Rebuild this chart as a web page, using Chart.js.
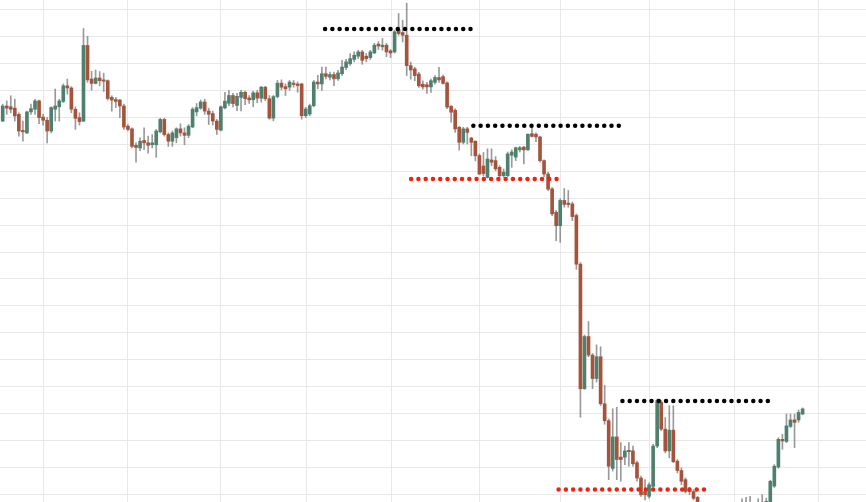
<!DOCTYPE html>
<html>
<head>
<meta charset="utf-8">
<script src="https://cdn.jsdelivr.net/npm/chart.js@4.4.1/dist/chart.umd.min.js"></script>
<style>
  html, body { margin: 0; padding: 0; background: #fff; }
  #wrap { width: 866px; height: 502px; }
</style>
</head>
<body>
<div id="wrap"><canvas id="chart"></canvas></div>
<script>
// OHLC per candle (price units), left to right
const opens = [
  148.7, 154.3, 154, 153.5, 151.2, 145.2, 144.3, 152.1, 153.1, 156.2,
  150.2, 149, 145, 153.1, 154, 156, 161.8, 161, 153.1, 150,
  148.7, 176.8, 164.3, 162.7, 164.7, 164, 163.7, 157.5, 156.7, 156.5,
  154.3, 146.8, 145.8, 139.7, 138.7, 141.5, 140.6, 139.9, 139.9, 144.7,
  149.3, 143.7, 141.2, 142.5, 145.8, 144.3, 143.4, 146.5, 152.1, 153.5,
  155.8, 152.4, 151.5, 148.7, 145.3, 153.6, 155.3, 158.2, 154.5, 157.5,
  159.4, 157.3, 156.6, 159.2, 157.2, 161.3, 157, 149.8, 157.8, 162.8,
  161.5, 161.3, 162.8, 162.5, 162.5, 150.7, 151.3, 154.4, 163.2, 162.5,
  166.3, 165, 166, 164.4, 166.3, 168.6, 170, 171.6, 172.8, 174.4,
  172.8, 172.3, 174, 177.3, 176.3, 176.9, 174.8, 174.4, 182.7, 181.6,
  180.6, 169.3, 168.1, 166.2, 162.4, 162.2, 161.4, 163.1, 164.9, 165.2,
  162.9, 154.2, 152.7, 146.4, 140.8, 145.8, 142.4, 141.2, 135.9, 132,
  127.75, 134.25, 134, 131.5, 128.4, 128.4, 136, 135.3, 138, 139,
  138, 144, 143.8, 142.8, 134, 129, 123.5, 114.8, 109.8, 119.2,
  118.2, 117.9, 113.6, 95.5, 49.2, 68.6, 61.7, 53, 61.1, 43.6,
  37.3, 19.6, 31.3, 23.8, 23.8, 26.3, 26.1, 21.7, 16, 11,
  9.2, 12.9, 27.9, 44.2, 34.2, 26.1, 33.8, 22.3, 18.8, 15.4,
  11.7, 11, 8.8, 6, 2, -1, 1, -2, -4, -1,
  -3, 0, 2, -1, 3, 1, 4, 2, 4, 4,
  6.6, 13, 20.1, 30.4, 29.6, 35.2, 37.6, 37.6, 39.8
];
const highs = [
  155, 156.2, 158.1, 156.8, 151.8, 148.7, 152.4, 155, 156.8, 156.5,
  151.2, 150, 154, 160.6, 156.8, 162.5, 164.3, 161.5, 154, 151.8,
  183.1, 180.2, 167.2, 167.7, 167.1, 166.5, 164, 158.1, 157.5, 156.8,
  155, 147.4, 146.2, 140.6, 142.5, 146.2, 143.1, 143.7, 145.6, 149.7,
  149.7, 144.3, 145, 146.2, 147.7, 146.2, 147.4, 153.7, 155.2, 156.5,
  156.8, 153.5, 152.4, 149.3, 154.4, 159.4, 160.1, 159, 159, 160.1,
  159.8, 158.2, 159.8, 160.1, 161.6, 161.6, 158.2, 158.2, 163.8, 164,
  162.5, 163.8, 163.8, 163.2, 162.8, 153.8, 155, 163.8, 165.7, 168.8,
  168.8, 166.9, 166.9, 167.6, 171.3, 171.6, 173.8, 174.4, 175, 175,
  173.8, 175, 177.6, 178.2, 179.4, 177.6, 175.3, 182.5, 188.7, 186.2,
  192.5, 170.6, 168.7, 166.8, 163.7, 163.1, 164.3, 165.6, 168.7, 165.8,
  163.3, 154.5, 153.3, 146.7, 146.4, 146.4, 142.7, 141.4, 136.5, 137,
  138.4, 138.4, 135.5, 132.1, 130.9, 137.2, 138, 139, 139.3, 139.3,
  144, 146.5, 144.3, 143, 134.3, 129.7, 124, 115.5, 119.8, 123.6,
  122.9, 118.6, 114.2, 96.1, 69.2, 74.2, 62.3, 65.5, 64.8, 50.5,
  38, 41.7, 42.3, 29.2, 27.9, 29.2, 27.9, 22.3, 16.7, 15.4,
  14.2, 28.5, 45.4, 44.8, 38.5, 42.9, 42.9, 22.9, 19.8, 16.1,
  12.5, 11.7, 9.2, 6.8, 4, 2, 3, 1, 0, 2,
  1, 4, 5, 8.3, 8.8, 9.2, 6, 8.3, 9.8, 8.5,
  15.2, 21, 31, 32.3, 39.8, 39.8, 39.8, 41.3, 42.1
];
const lows = [
  148.5, 151.2, 151.8, 148.7, 143.1, 141.2, 144, 151.2, 151.2, 147.7,
  147.2, 140.6, 144.3, 148.7, 148.7, 155.6, 158.7, 151.8, 145.6, 147.2,
  148.5, 163.1, 160.2, 162.5, 161.8, 159.7, 156.5, 152.4, 153.7, 150,
  145.6, 145, 138.7, 133.4, 137.7, 138.1, 136.8, 138.7, 135.2, 144.3,
  143.1, 139.3, 139.3, 140.6, 143.1, 139.9, 142.5, 146.2, 150.6, 153.1,
  151.2, 147.4, 147.2, 143.7, 145, 153.2, 154.4, 154, 152.6, 152.5,
  154.8, 155.3, 154, 155.5, 155.7, 156.3, 149.4, 148.8, 157.3, 160.3,
  158.2, 160.1, 161.3, 159.4, 149.4, 150, 150.7, 154, 160.7, 160.1,
  164.4, 164, 161.9, 163.8, 165.7, 167.8, 169.4, 170.7, 171.9, 169.8,
  170.7, 171.6, 173.8, 175.3, 175, 172.6, 172.3, 174, 180.6, 178.1,
  165.6, 164.3, 163.7, 161.2, 160.6, 159, 159.3, 162.4, 163.1, 162.4,
  153.3, 148.3, 144.5, 137.9, 140.2, 140.2, 135.8, 133.9, 128.8, 128.3,
  127.5, 132.1, 130.25, 127.75, 127.8, 128, 131.5, 134, 137.2, 132.8,
  137.8, 142.8, 141, 133.4, 128, 122.8, 113.5, 104.2, 103.6, 116.7,
  116.7, 111.7, 93.6, 38.6, 49, 61.1, 49.2, 51.7, 43, 36,
  15.4, 18.6, 15.4, 14.8, 21, 20.4, 20.4, 14.8, 9.2, 7.9,
  8.5, 12.5, 27.3, 33.6, 25.4, 23.5, 21.7, 17.9, 13.5, 10.4,
  9.8, 7.9, 4, 1, -3, -5, -4, -6, -7, -5,
  -6, -3, -2, -3, -1, -2, 0, -1, 1, 3,
  5, 12.5, 19.6, 26.7, 29.2, 34.8, 27.3, 36.7, 39.5
];
const closes = [
  154.3, 153.5, 153.1, 150.6, 145, 144.7, 152.1, 153.3, 156.2, 150,
  149, 145, 153.7, 154.3, 156.2, 161.8, 161, 153.1, 149.7, 148.5,
  176.8, 164, 162.7, 164.7, 163.7, 163.5, 157.1, 156.5, 156, 154.3,
  146.5, 145.6, 139.3, 138.9, 141.2, 140.6, 139.7, 140.6, 145, 149.3,
  143.7, 141.2, 144.3, 145.8, 144.3, 143.4, 146.8, 153.1, 153.7, 155.8,
  152.4, 151.2, 148.7, 145.6, 154, 156.1, 158.2, 155.2, 157.9, 159.4,
  157, 156.6, 159.2, 157.2, 161.3, 157, 149.8, 157.8, 162.8, 161.3,
  160.7, 163.2, 162.3, 161.9, 150.7, 153.2, 154.4, 163.2, 162.5, 166.3,
  165.3, 166, 164.4, 166.6, 168.8, 170.7, 171.9, 173.2, 174.4, 171.3,
  171.9, 174.4, 176.9, 176.6, 176.9, 174.4, 174, 181.9, 181.2, 180.6,
  169.3, 167.7, 165.6, 161.8, 161.4, 161.4, 163.7, 164.9, 164, 162.7,
  153.9, 152, 145.8, 140.8, 145.8, 144.5, 140.8, 135.8, 129, 129.2,
  134.6, 133.4, 130.9, 128.4, 129.7, 136.5, 137.2, 138.8, 138.8, 138,
  143.8, 143, 142.8, 134, 129, 123.4, 114.2, 109.8, 119.2, 117.7,
  117.7, 113.2, 95.5, 49.2, 68.6, 61.7, 53, 61.1, 43.6, 37.3,
  20.4, 31.3, 22.9, 22.9, 26.1, 25.8, 21.3, 16, 9.8, 9.8,
  13.5, 27.9, 44.8, 34.2, 26.1, 33.8, 22.1, 18.8, 14.8, 11,
  11, 8.5, 6, 2, -1, 1, -2, -4, -1, -3,
  0, 2, -1, 3, 1, 4, 2, 4, 3, 7.3,
  14.8, 20.4, 30.4, 29.8, 35.4, 37.6, 36.7, 40.4, 41.7
];

// dotted levels drawn on the chart (price, from candle, to candle)
const levelPrices = [182.9, 147, 127.2, 44.6, 11.7];
const levelFrom = [79.8, 116.5, 101.1, 153.4, 137.6];
const levelTo = [116, 152.7, 137.2, 189.6, 173.8];
const levelColors = ['#000000', '#000000', '#f2200f', '#000000', '#f2200f'];

// vertical grid lines (session breaks), in candle index
const sessionBreaks = [10, 31, 54, 75.25, 96.3, 118, 138, 160, 181.25, 201.9];

const UP = '#4e806d';
const DOWN = '#a5533b';
const WICK = 'rgba(120, 120, 120, 0.75)';

document.addEventListener('DOMContentLoaded', function() {
    const ctx = document.getElementById('chart').getContext('2d');
    const idx = opens.map((_, i) => i);

    const wicks = idx.map(i => ({ x: i, y: [lows[i], highs[i]] }));
    const bodies = idx.map(i => ({ x: i, y: [opens[i], closes[i]] }));
    const bodyColors = idx.map(i => closes[i] >= opens[i] ? UP : DOWN);

    const datasets = [
        {
            type: 'bar',
            data: wicks,
            backgroundColor: WICK,
            barThickness: 1,
            grouped: false,
            order: 3
        },
        {
            type: 'bar',
            data: bodies,
            backgroundColor: bodyColors,
            barThickness: 3,
            minBarLength: 1,
            grouped: false,
            order: 2
        }
    ];

    // dotted horizontal levels
    levelPrices.forEach(function(p, k) {
        datasets.push({
            type: 'line',
            data: [{ x: levelFrom[k], y: p }, { x: levelTo[k], y: p }],
            borderColor: levelColors[k],
            borderWidth: 4.5,
            borderDash: [0, 7.27],
            borderCapStyle: 'round',
            pointRadius: 0,
            fill: false,
            order: 1
        });
    });

    new Chart(ctx, {
        data: { datasets: datasets },
        options: {
            responsive: true,
            maintainAspectRatio: false,
            animation: false,
            layout: { padding: 0 },
            plugins: {
                legend: { display: false },
                tooltip: { enabled: false }
            },
            scales: {
                x: {
                    type: 'linear',
                    offset: false,
                    min: -0.668,
                    max: 213.69,
                    afterBuildTicks: function(scale) {
                        scale.ticks = sessionBreaks.map(v => ({ value: v }));
                    },
                    ticks: { display: false },
                    border: { display: false },
                    grid: { color: '#e8e8e8', drawTicks: false, offset: false }
                },
                y: {
                    min: 7.1,
                    max: 193.7,
                    ticks: { display: false, stepSize: 10, includeBounds: false },
                    border: { display: false },
                    grid: { color: '#e8e8e8', drawTicks: false }
                }
            }
        }
    });
});
</script>
</body>
</html>
